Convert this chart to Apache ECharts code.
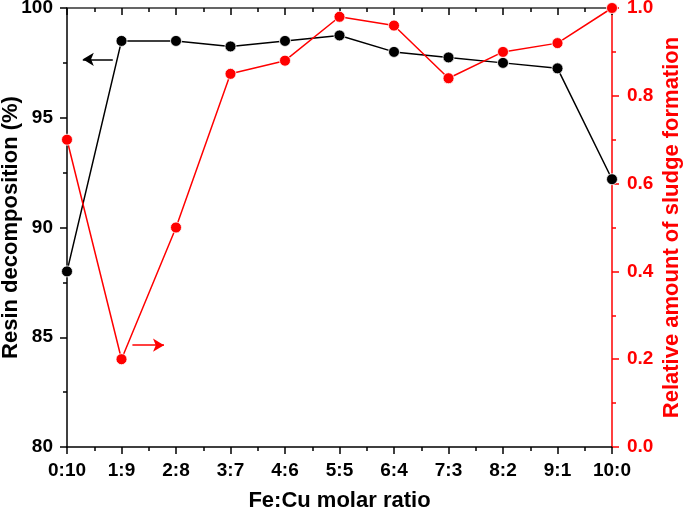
<!DOCTYPE html>
<html>
<head>
<meta charset="utf-8">
<script src="https://cdn.jsdelivr.net/npm/echarts@6/dist/echarts.min.js"></script>
<style>
html,body{margin:0;padding:0;background:#fff;}
#chart{width:685px;height:512px;}
</style>
</head>
<body>
<div id="chart"></div>
<script>
const categories = ['0:10','1:9','2:8','3:7','4:6','5:5','6:4','7:3','8:2','9:1','10:0'];
const resinDecomposition = [88.0, 98.5, 98.5, 98.25, 98.5, 98.75, 98.0, 97.75, 97.5, 97.25, 92.2];
const sludgeAmount = [0.70, 0.20, 0.50, 0.85, 0.88, 0.98, 0.96, 0.84, 0.90, 0.92, 1.00];
const leftTicks = [80, 85, 90, 95, 100];
const rightTicks = [0.0, 0.2, 0.4, 0.6, 0.8, 1.0];

const FONT = '"Liberation Sans", Arial, sans-serif';
const chart = echarts.init(document.getElementById('chart'), null, {renderer:'canvas'});

const toPairs = arr => arr.map((v, i) => [i, v]);

const option = {
  animation: false,
  backgroundColor: '#fff',
  grid: {left: 67, right: 73, top: 8, bottom: 65, containLabel: false, outerBoundsMode: 'none'},
  xAxis: [
    {
      type: 'value', min: 0, max: categories.length - 1, interval: 1,
      position: 'bottom',
      name: 'Fe:Cu molar ratio', nameLocation: 'middle', nameGap: 43, nameMoveOverlap: false,
      nameTextStyle: {fontFamily: FONT, fontWeight: 'bold', fontSize: 22, color: '#000'},
      axisLine: {onZero: false, lineStyle: {color: '#000', width: 1.5}},
      axisTick: {show: true, length: 7, lineStyle: {color: '#000', width: 1.5}},
      minorTick: {show: true, splitNumber: 2, length: 4, lineStyle: {color: '#000', width: 1.5}},
      splitLine: {show: false}, minorSplitLine: {show: false},
      axisLabel: {margin: 14, fontFamily: FONT, fontWeight: 'bold', fontSize: 19, color: '#000',
        formatter: v => categories[Math.round(v)] || ''}
    },
    {
      type: 'value', min: 0, max: categories.length - 1, interval: 1,
      position: 'top',
      axisLine: {onZero: false, lineStyle: {color: '#333', width: 1.5}},
      axisTick: {show: true, inside: true, length: 7, lineStyle: {color: '#000', width: 1.5}},
      minorTick: {show: true, splitNumber: 2, length: 4, lineStyle: {color: '#000', width: 1.5}},
      splitLine: {show: false}, minorSplitLine: {show: false},
      axisLabel: {show: false}
    }
  ],
  yAxis: [
    {
      type: 'value', min: leftTicks[0], max: leftTicks[leftTicks.length - 1], interval: 5,
      position: 'left',
      name: 'Resin decomposition (%)', nameLocation: 'middle', nameGap: 45, nameMoveOverlap: false,
      nameTextStyle: {fontFamily: FONT, fontWeight: 'bold', fontSize: 22, color: '#000'},
      axisLine: {show: true, onZero: false, lineStyle: {color: '#000', width: 1.5}},
      axisTick: {show: true, length: 7, lineStyle: {color: '#000', width: 1.5}},
      minorTick: {show: true, splitNumber: 2, length: 4, lineStyle: {color: '#000', width: 1.5}},
      splitLine: {show: false}, minorSplitLine: {show: false},
      axisLabel: {margin: 14, fontFamily: FONT, fontWeight: 'bold', fontSize: 19, color: '#000'}
    },
    {
      type: 'value', min: rightTicks[0], max: rightTicks[rightTicks.length - 1], interval: 0.2,
      position: 'right',
      name: 'Relative amount of sludge formation', nameLocation: 'middle', nameGap: 49, nameMoveOverlap: false,
      nameRotate: 90,
      nameTextStyle: {fontFamily: FONT, fontWeight: 'bold', fontSize: 22, color: '#ff0000'},
      axisLine: {show: true, onZero: false, lineStyle: {color: '#ff0000', width: 1.5}},
      axisTick: {show: true, length: 7, lineStyle: {color: '#ff0000', width: 1.5}},
      minorTick: {show: true, splitNumber: 2, length: 4, lineStyle: {color: '#ff0000', width: 1.5}},
      splitLine: {show: false}, minorSplitLine: {show: false},
      axisLabel: {margin: 15, fontFamily: FONT, fontWeight: 'bold', fontSize: 19, color: '#ff0000',
        formatter: v => v.toFixed(1)}
    }
  ],
  series: [
    {
      name: 'Resin decomposition', type: 'line', xAxisIndex: 0, yAxisIndex: 0,
      data: toPairs(resinDecomposition),
      symbol: 'circle', symbolSize: 11,
      lineStyle: {color: '#000', width: 1.5},
      itemStyle: {color: '#000', borderColor: '#fff', borderWidth: 0.8},
      markLine: {
        silent: true, symbol: ['none', 'arrow'], symbolSize: [10, 11],
        label: {show: false},
        lineStyle: {color: '#000', width: 1.5, type: 'solid'},
        data: [[{coord: [0.84, 97.66]}, {coord: [0.29, 97.66]}]]
      }
    },
    {
      name: 'Sludge formation', type: 'line', xAxisIndex: 0, yAxisIndex: 1,
      data: toPairs(sludgeAmount),
      symbol: 'circle', symbolSize: 11,
      lineStyle: {color: '#ff0000', width: 1.5},
      itemStyle: {color: '#ff0000', borderColor: '#fff', borderWidth: 0.8},
      markLine: {
        silent: true, symbol: ['none', 'arrow'], symbolSize: [10, 11],
        label: {show: false},
        lineStyle: {color: '#ff0000', width: 1.5, type: 'solid'},
        data: [[{coord: [1.2, 0.232]}, {coord: [1.78, 0.232]}]]
      }
    }
  ]
};
chart.setOption(option);
</script>
</body>
</html>
